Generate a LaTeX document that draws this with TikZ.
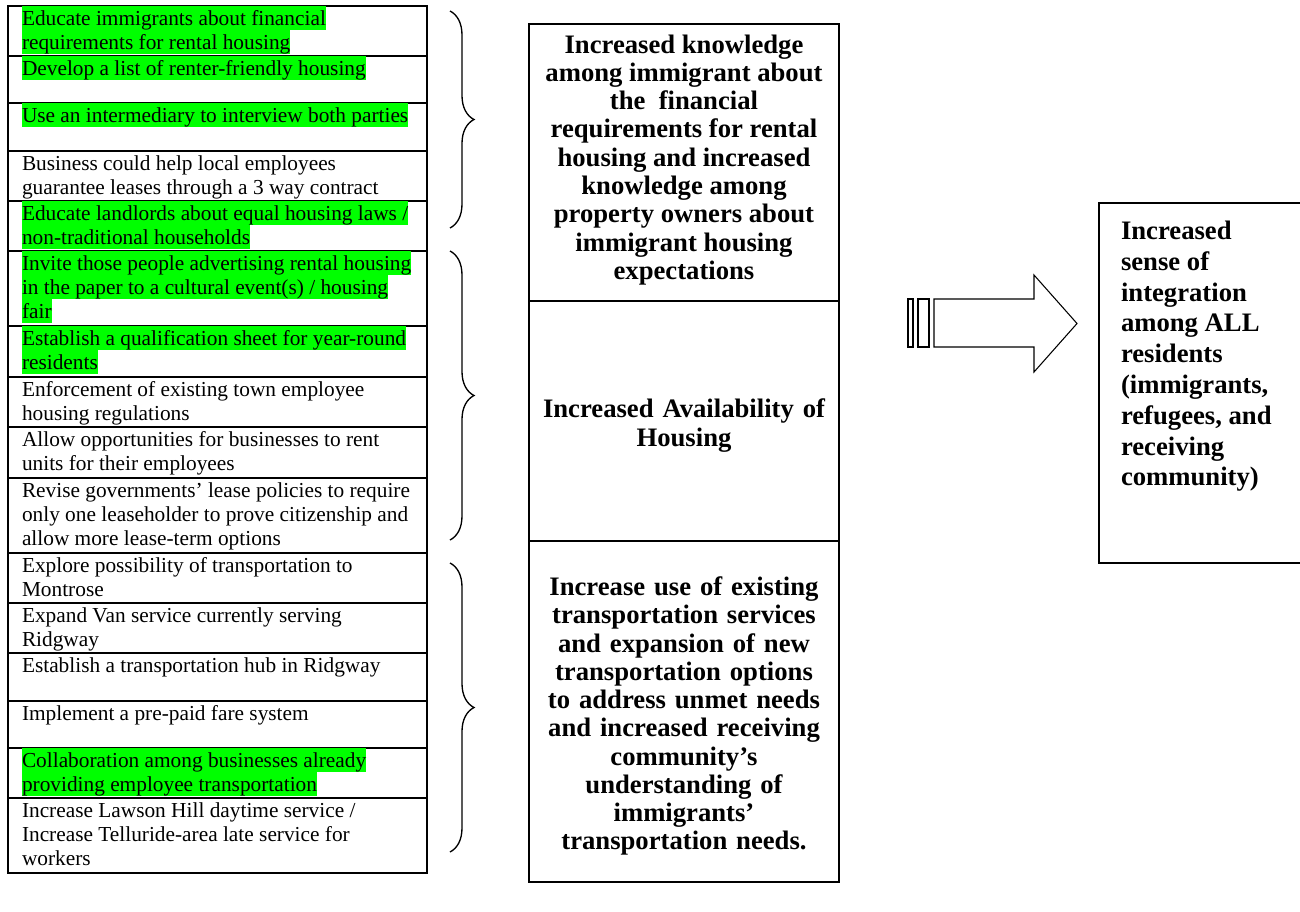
\documentclass[tikz,border=0pt]{standalone}
\usepackage{fontspec}
\setmainfont{Liberation Serif}
\usepackage{tikz}
\usetikzlibrary{positioning,decorations.pathreplacing}
\definecolor{hlgreen}{RGB}{0,255,0}
\setlength{\fboxsep}{0pt}
\newcommand{\sr}{\rule[-3.75pt]{0pt}{18pt}}
\newcommand{\hl}[1]{\colorbox{hlgreen}{\sr#1}}
\newcommand{\cell}[2]{\parbox[c][#1][t]{314.25pt}{\leftskip=10.5pt\sr#2}}
\newcommand{\tp}{\rule{0pt}{21pt}}
\tikzset{
  rowbox/.style={draw, line width=1.1pt, inner sep=0pt, outer sep=0pt, font=\fontsize{16}{18}\selectfont},
  outbox/.style={draw, line width=1.1pt, outer sep=0pt, font=\fontsize{20}{21.2}\selectfont\bfseries},
  midbox/.style={outbox, inner xsep=7.5pt, text width=217.5pt, align=center},
  goalbox/.style={draw, line width=1.1pt, outer sep=0pt, inner xsep=16.5pt, inner ysep=13.5pt, font=\fontsize{20}{23.1}\selectfont\bfseries},
  brc/.style={decorate, decoration={brace, amplitude=18pt}, line width=1pt}
}
\begin{document}
\begin{tikzpicture}[x=0.75pt,y=0.75pt,yscale=-1,xscale=1]
\useasboundingbox (0,0) rectangle (1300,911);

% Text Node
\node[rowbox, anchor=north west] (r1) at (8,6) {\cell{37.5pt}{\hl{Educate immigrants about financial}\\\hl{requirements for rental housing}}};
\node[rowbox, below=0pt of r1] (r2) {\cell{35.25pt}{\hl{Develop a list of renter-friendly housing}}};
\node[rowbox, below=0pt of r2] (r3) {\cell{36pt}{\hl{Use an intermediary to interview both parties}}};
\node[rowbox, below=0pt of r3] (r4) {\cell{37.5pt}{Business could help local employees\\\sr guarantee leases through a 3 way contract}};
\node[rowbox, below=0pt of r4] (r5) {\cell{37.5pt}{\hl{Educate landlords about equal housing laws /}\\\hl{non-traditional households}}};
\node[rowbox, below=0pt of r5] (r6) {\cell{56.25pt}{\hl{Invite those people advertising rental housing}\\\hl{in the paper to a cultural event(s) / housing}\\\hl{fair}}};
\node[rowbox, below=0pt of r6] (r7) {\cell{38.25pt}{\hl{Establish a qualification sheet for year-round}\\\hl{residents}}};
\node[rowbox, below=0pt of r7] (r8) {\cell{37.5pt}{Enforcement of existing town employee\\\sr housing regulations}};
\node[rowbox, below=0pt of r8] (r9) {\cell{38.25pt}{Allow opportunities for businesses to rent\\\sr units for their employees}};
\node[rowbox, below=0pt of r9] (r10) {\cell{56.25pt}{Revise governments’ lease policies to require\\\sr only one leaseholder to prove citizenship and\\\sr allow more lease-term options}};
\node[rowbox, below=0pt of r10] (r11) {\cell{37.5pt}{Explore possibility of transportation to\\\sr Montrose}};
\node[rowbox, below=0pt of r11] (r12) {\cell{37.5pt}{Expand Van service currently serving\\\sr Ridgway}};
\node[rowbox, below=0pt of r12] (r13) {\cell{36pt}{Establish a transportation hub in Ridgway}};
\node[rowbox, below=0pt of r13] (r14) {\cell{35.25pt}{Implement a pre-paid fare system}};
\node[rowbox, below=0pt of r14] (r15) {\cell{37.5pt}{\hl{Collaboration among businesses already}\\\hl{providing employee transportation}}};
\node[rowbox, below=0pt of r15] (r16) {\cell{56.25pt}{Increase Lawson Hill daytime service /\\\sr Increase Telluride-area late service for\\\sr workers}};

%Shape: Brace
\draw[brc] (450,11) -- (450,228);
\draw[brc] (450,251) -- (450,540);
\draw[brc] (450,563) -- (450,852);

% Text Node
\node[outbox, inner xsep=7.5pt, inner ysep=8pt, anchor=north] (m1) at (684,24) {\parbox[c][191.75pt][t]{217.5pt}{\centering Increased knowledge\\ among immigrant about\\ the\ \ financial\\ requirements for rental\\ housing and increased\\ knowledge among\\ property owners about\\ immigrant housing\\ expectations}};
\node[midbox, minimum height=180pt, below=0pt of m1] (m2) {\tp Increased Availability of\\ Housing};
\node[midbox, minimum height=255.75pt, below=0pt of m2] (m3) {\tp Increase use of existing\\ transportation services\\ and expansion of new\\ transportation options\\ to address unmet needs\\ and increased receiving\\ community’s\\ understanding of\\ immigrants’\\ transportation needs.};

%Shape: Striped Right Arrow
\draw[line width=0.8pt] (908,299) rectangle (913,347);
\draw[line width=0.8pt] (918,299) rectangle (929,347);
\draw[line width=0.8pt] (934,299) -- (1034,299) -- (1034,275) -- (1077,323.5) -- (1034,372) -- (1034,347) -- (934,347) -- cycle;

% Text Node
\node[goalbox, anchor=north west] (goal) at (1099,203) {\parbox[c][243pt][t]{200pt}{Increased\\ sense of\\ integration\\ among ALL\\ residents\\ (immigrants,\\ refugees, and\\ receiving\\ community)}};

\end{tikzpicture}
\end{document}
